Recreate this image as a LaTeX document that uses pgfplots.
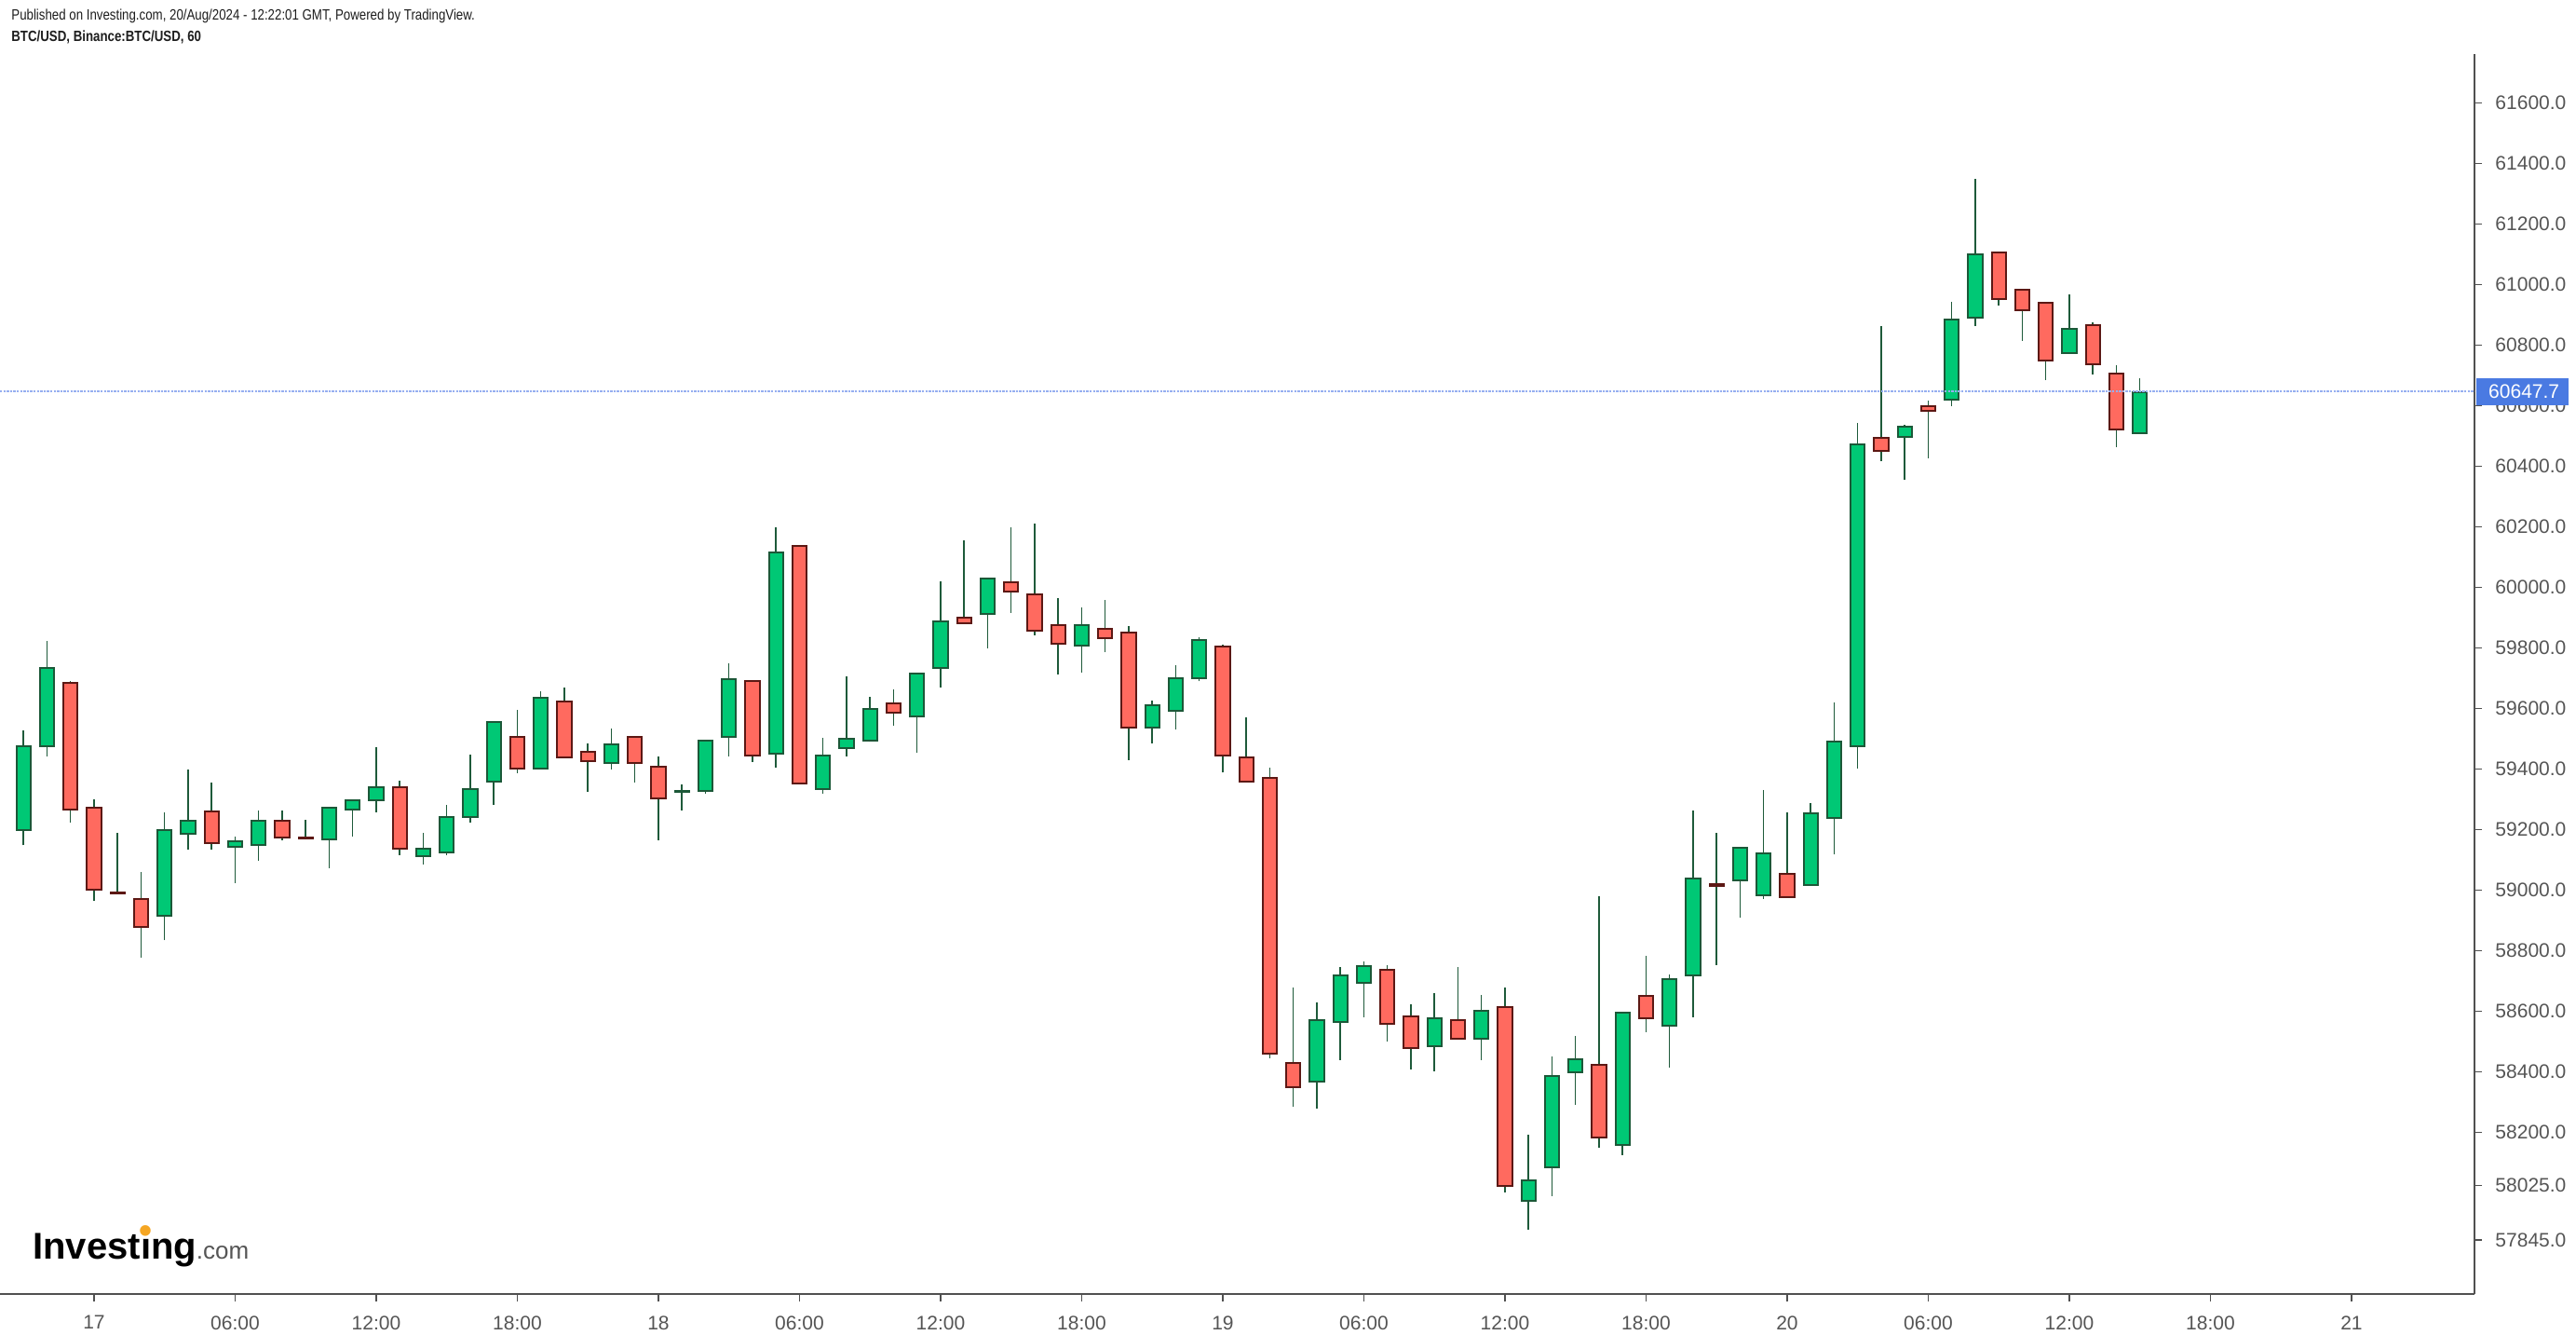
\documentclass[border=0pt]{standalone}
\usepackage{pgfplots}
\pgfplotsset{compat=1.18}
\usepackage{pgfplotstable}
\usepackage{graphicx}
\usepackage{fontspec}
\setmainfont{Liberation Sans}

\definecolor{greenfill}{RGB}{0,200,117}
\definecolor{greenline}{RGB}{28,88,56}
\definecolor{redfill}{RGB}{255,106,95}
\definecolor{redline}{RGB}{92,24,20}
\definecolor{wickgreen}{RGB}{30,90,58}
\definecolor{axisgrey}{RGB}{80,80,80}
\definecolor{ticktext}{RGB}{85,85,85}
\definecolor{priceblue}{RGB}{74,122,226}
\definecolor{priceline}{RGB}{150,175,240}
\definecolor{logoorange}{RGB}{245,166,35}
\definecolor{headtext}{RGB}{30,30,30}

\pgfplotstableread{
t o h l c
-3 59200 59528 59149 59477
-2 59476 59823 59443 59735
-1 59686 59690 59223 59267
0 59274 59300 58964 59002
1 58992 59189 58988 58990
2 58972 59061 58779 58879
3 58917 59257 58835 59200
4 59186 59399 59136 59231
5 59262 59356 59136 59155
6 59144 59177 59025 59163
7 59150 59264 59099 59231
8 59231 59264 59166 59175
9 59173 59233 59168 59170
10 59168 59276 59074 59274
11 59267 59300 59179 59299
12 59298 59473 59259 59342
13 59342 59362 59117 59138
14 59113 59190 59086 59139
15 59125 59282 59117 59243
16 59242 59448 59223 59336
17 59359 59560 59283 59557
18 59508 59596 59388 59402
19 59402 59658 59400 59636
20 59625 59670 59437 59439
21 59459 59485 59326 59427
22 59421 59535 59400 59483
23 59508 59510 59357 59421
24 59409 59442 59166 59304
25 59324 59350 59265 59327
26 59327 59498 59320 59496
27 59506 59750 59443 59699
28 59692 59695 59425 59445
29 59451 60199 59406 60117
30 60136 60138 59351 59353
31 59335 59504 59320 59446
32 59470 59707 59443 59502
33 59494 59639 59490 59600
34 59619 59664 59543 59586
35 59574 59720 59456 59717
36 59735 60021 59671 59889
37 59902 60156 59880 59882
38 59913 60033 59800 60031
39 60019 60199 59917 59986
40 59976 60211 59843 59858
41 59877 59965 59714 59815
42 59808 59935 59720 59877
43 59865 59959 59788 59833
44 59852 59873 59431 59538
45 59538 59627 59486 59612
46 59592 59745 59530 59700
47 59700 59835 59690 59828
48 59805 59810 59389 59445
49 59440 59571 59357 59359
50 59372 59405 58446 58461
51 58431 58679 58286 58350
52 58368 58630 58280 58572
53 58564 58747 58440 58720
54 58694 58765 58582 58751
55 58739 58753 58502 58559
56 58585 58624 58409 58479
57 58485 58661 58403 58579
58 58572 58747 58508 58510
59 58510 58654 58440 58603
60 58615 58679 58003 58024
61 57974 58193 57880 58043
62 58085 58451 57991 58388
63 58399 58519 58292 58443
64 58425 58981 58151 58184
65 58159 58600 58126 58597
66 58652 58784 58532 58578
67 58553 58722 58415 58708
68 58719 59265 58582 59040
69 59020 59190 58754 59016
70 59033 59142 58909 59140
71 58985 59332 58972 59121
72 59053 59257 58976 58978
73 59019 59288 59017 59256
74 59240 59620 59118 59490
75 59476 60544 59402 60474
76 60493 60863 60417 60452
77 60496 60538 60355 60530
78 60598 60618 60428 60583
79 60621 60944 60600 60886
80 60890 61350 60865 61102
81 61108 61110 60932 60953
82 60985 60987 60815 60916
83 60942 60944 60686 60750
84 60774 60968 60772 60855
85 60868 60876 60705 60737
86 60708 60734 60465 60522
87 60510 60691 60508 60646
}\candles

\begin{document}
\begin{tikzpicture}
\fill[white] (0pt,0pt) rectangle (1383pt,716pt);
\path[use as bounding box] (0pt,0pt) rectangle (1383pt,716pt);

\begin{axis}[
  at={(0pt,21.35pt)}, anchor=south west,
  scale only axis, width=1328.5pt, height=665.65pt,
  xmin=-4.0, xmax=101.23, ymin=57666, ymax=61762,
  axis x line=bottom, axis y line=right,
  axis line style={-, draw=axisgrey, line width=1pt},
  tick align=outside, major tick length=4pt,
  tick style={draw=axisgrey, line width=0.7pt},
  /pgf/number format/assume math mode=true,
  xtick={0,6,12,18,24,30,36,42,48,54,60,66,72,78,84,90,96},
  xticklabels={17,06:00,12:00,18:00,18,06:00,12:00,18:00,19,06:00,12:00,18:00,20,06:00,12:00,18:00,21},
  ytick={57845,58025,58200,58400,58600,58800,59000,59200,59400,59600,59800,60000,60200,60400,60600,60800,61000,61200,61400,61600},
  yticklabels={57845.0,58025.0,58200.0,58400.0,58600.0,58800.0,59000.0,59200.0,59400.0,59600.0,59800.0,60000.0,60200.0,60400.0,60600.0,60800.0,61000.0,61200.0,61400.0,61600.0},
  ticklabel style={font=\fontsize{10.5}{12}\selectfont, text=ticktext},
  xticklabel style={yshift=-4pt},
  yticklabel style={xshift=3.7pt},
  wick/.style={draw=wickgreen, line width=0.75pt, mark=none, forget plot},
  body/.style={line width=1pt, mark=none, forget plot, line join=miter},
]
\pgfplotstablegetrowsof{\candles}
\pgfmathtruncatemacro{\lastrow}{\pgfplotsretval-1}
\pgfplotsforeachungrouped \candleidx in {0,...,\lastrow}{%
  \pgfplotstablegetelem{\candleidx}{t}\of\candles \let\ct\pgfplotsretval
  \pgfplotstablegetelem{\candleidx}{o}\of\candles \let\co\pgfplotsretval
  \pgfplotstablegetelem{\candleidx}{h}\of\candles \let\chh\pgfplotsretval
  \pgfplotstablegetelem{\candleidx}{l}\of\candles \let\cl\pgfplotsretval
  \pgfplotstablegetelem{\candleidx}{c}\of\candles \let\cc\pgfplotsretval
  \ifnum\cc<\co\relax
    \def\cfill{redfill}\def\cdraw{redline}%
  \else
    \def\cfill{greenfill}\def\cdraw{greenline}%
  \fi
  \pgfmathsetmacro\xa{\ct-0.30}%
  \pgfmathsetmacro\xb{\ct+0.30}%
  \edef\doit{%
    \noexpand\addplot[wick] coordinates {(\ct,\cl) (\ct,\chh)};
    \noexpand\addplot[body, fill=\cfill, draw=\cdraw] coordinates {(\xa,\co) (\xb,\co) (\xb,\cc) (\xa,\cc)} -- cycle;
  }\doit
}
\addplot[priceline, line width=0.8pt, dash pattern=on 1.2pt off 0.6pt, mark=none, forget plot] coordinates {(-4,60647.7) (101.23,60647.7)};
\end{axis}

% last price box
\fill[priceblue] (1329.5pt,498.4pt) rectangle (1379pt,512.9pt);
\node[anchor=west, inner sep=0pt, text=white, font=\fontsize{10.5}{12}\selectfont] at (1335.9pt,505.65pt) {60647.7};

% header
\node[anchor=base west, inner sep=0pt, text=headtext] at (6pt,705pt) {\scalebox{0.83}[1]{\fontsize{8}{9.6}\selectfont Published on Investing.com, 20/Aug/2024 - 12:22:01 GMT, Powered by TradingView.}};
\node[anchor=base west, inner sep=0pt, text=headtext] at (6pt,693.5pt) {\scalebox{0.83}[1]{\fontsize{8}{9.6}\selectfont\bfseries BTC/USD, Binance:BTC/USD, 60}};

% logo
\node[anchor=base west, inner sep=0pt] at (17.5pt,40.5pt) {\fontsize{20}{20}\selectfont\bfseries Invest\ooalign{ı\cr\hidewidth\raisebox{0.42em}{\textcolor{logoorange}{•}}\hidewidth\cr}ng{\mdseries\fontsize{13}{13}\selectfont\textcolor{ticktext}{.com}}};
\end{tikzpicture}
\end{document}
